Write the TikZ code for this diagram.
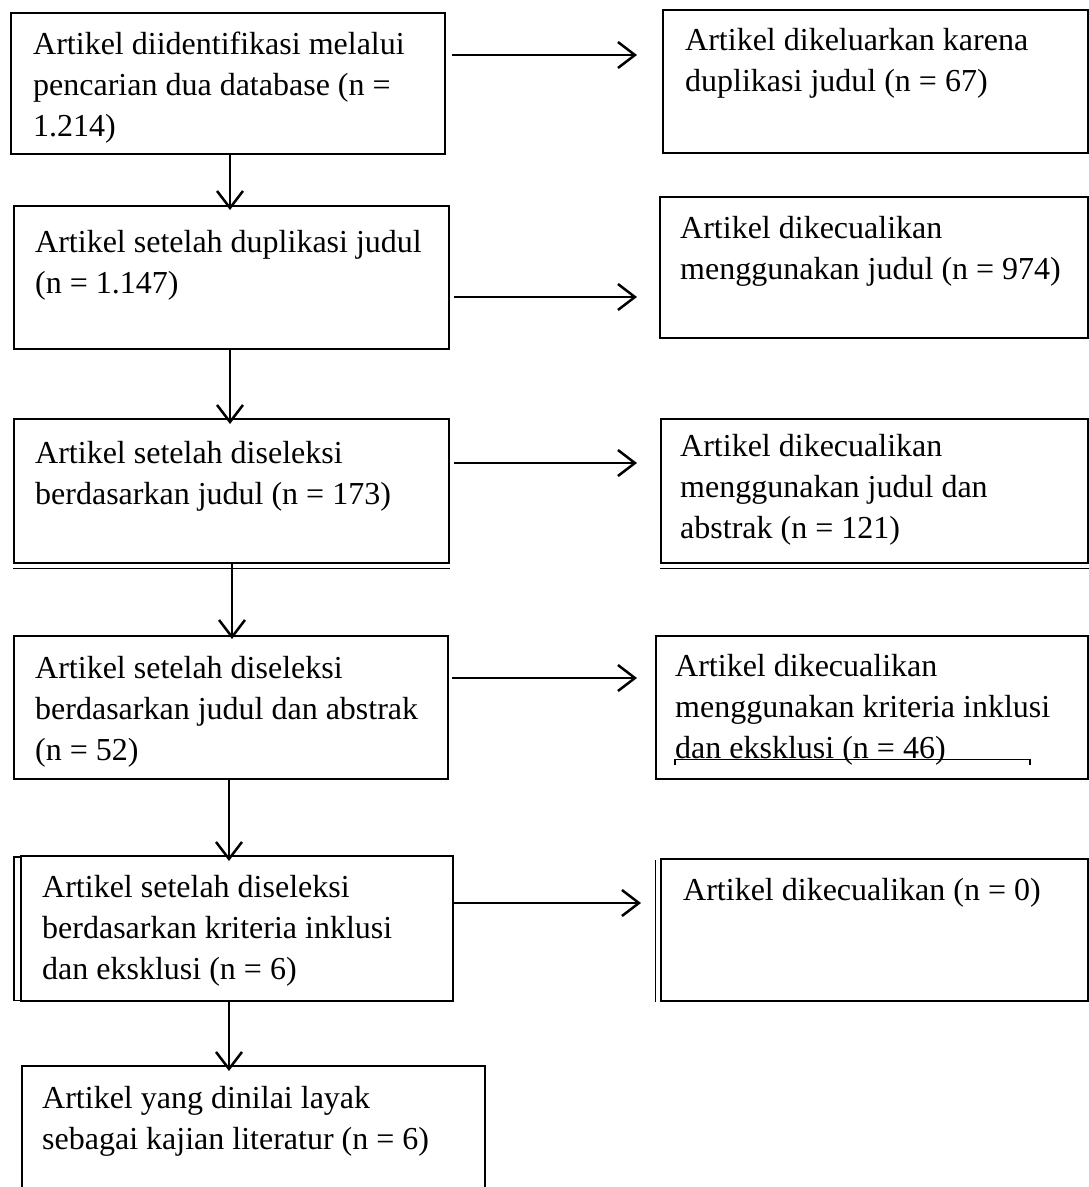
\documentclass[tikz,border=0pt]{standalone}
\usepackage{fontspec}
\setmainfont{Liberation Serif}
\usetikzlibrary{arrows.meta}
\begin{document}
\begin{tikzpicture}[x=1pt,y=-1pt,
  box/.style={draw, line width=2.4pt, inner sep=0pt, anchor=north west},
  txt/.style={anchor=base west, inner sep=0pt, font=\fontsize{32}{41}\selectfont},
  arr/.style={line width=2.5pt, -{Straight Barb[length=17pt,width=26pt,line width=2.5pt]}},
  thinline/.style={line width=1.2pt}]
\clip (0,0) rectangle (1089,1187);
\fill[white] (0,0) rectangle (1089,1187);
% left column boxes
\node[box, minimum width=434pt, minimum height=141pt] (b1) at (10,12) {};
\node[box, minimum width=435pt, minimum height=143pt] (b2) at (13,205) {};
\node[box, minimum width=435pt, minimum height=144pt] (b3) at (13,418) {};
\node[box, minimum width=434pt, minimum height=143pt] (b4) at (13,635) {};
\node[box, minimum width=432pt, minimum height=145pt] (b5) at (20,855) {};
\node[box, minimum width=463pt, minimum height=140pt] (b6) at (21,1065) {};
% right column boxes
\node[box, minimum width=425pt, minimum height=143pt] (r1) at (662,9) {};
\node[box, minimum width=428pt, minimum height=141pt] (r2) at (659,196) {};
\node[box, minimum width=427pt, minimum height=144pt] (r3) at (660,418) {};
\node[box, minimum width=432pt, minimum height=143pt] (r4) at (655,635) {};
\node[box, minimum width=427pt, minimum height=142pt] (r5) at (660,858) {};
% extra lines (double edges)
\draw[line width=1.4pt] ([yshift=-4pt]b3.south west) -- ([yshift=-4pt]b3.south east);
\draw[line width=1.4pt] ([yshift=-4pt]r3.south west) -- ([yshift=-4pt]r3.south east);
\draw[thinline] ([shift={(0,2)}]b5.north west) -- ++(-6,0) |- ([shift={(-6,-2)}]b5.south west) -- ++(6,0);
\draw[line width=1.6pt] ([shift={(-4.5,2)}]r5.north west) -- ([shift={(-4.5,0)}]r5.south west);
\coordinate (r4a) at ([shift={(20,-21)}]r4.south west);
\coordinate (r4b) at ([shift={(375,-21)}]r4.south west);
\draw[thinline] ([yshift=-6pt]r4a) -- (r4a) -- (r4b) -- ([yshift=-6pt]r4b);
% texts
\node[txt] (tb1) at (33,54) {\vtop{\hbox{Artikel diidentifikasi melalui}\hbox{pencarian dua database (n =}\hbox{1.214)}}};
\node[txt] (tb2) at (35,252) {\vtop{\hbox{Artikel setelah duplikasi judul}\hbox{(n = 1.147)}}};
\node[txt] (tb3) at (35,463) {\vtop{\hbox{Artikel setelah diseleksi}\hbox{berdasarkan judul (n = 173)}}};
\node[txt] (tb4) at (35,678) {\vtop{\hbox{Artikel setelah diseleksi}\hbox{berdasarkan judul dan abstrak}\hbox{(n = 52)}}};
\node[txt] (tb5) at (42,897) {\vtop{\hbox{Artikel setelah diseleksi}\hbox{berdasarkan kriteria inklusi}\hbox{dan eksklusi (n = 6)}}};
\node[txt] (tb6) at (42,1108) {\vtop{\hbox{Artikel yang dinilai layak}\hbox{sebagai kajian literatur (n = 6)}}};
\node[txt] (tr1) at (685,50) {\vtop{\hbox{Artikel dikeluarkan karena}\hbox{duplikasi judul (n = 67)}}};
\node[txt] (tr2) at (680,238) {\vtop{\hbox{Artikel dikecualikan}\hbox{menggunakan judul (n = 974)}}};
\node[txt] (tr3) at (680,456) {\vtop{\hbox{Artikel dikecualikan}\hbox{menggunakan judul dan}\hbox{abstrak (n = 121)}}};
\node[txt] (tr4) at (675,676) {\vtop{\hbox{Artikel dikecualikan}\hbox{menggunakan kriteria inklusi}\hbox{dan eksklusi (n = 46)}}};
\node[txt] (tr5) at (683,900) {Artikel dikecualikan (n = 0)};
% horizontal arrows
\draw[arr] ([shift={(6,43)}]b1.north east) -- ([shift={(-25,43)}]b1.north east -| r1.west);
\draw[arr] ([shift={(4,92)}]b2.north east) -- ([shift={(-22,92)}]b2.north east -| r2.west);
\draw[arr] ([shift={(4,45)}]b3.north east) -- ([shift={(-23,45)}]b3.north east -| r3.west);
\draw[arr] ([shift={(3,43)}]b4.north east) -- ([shift={(-18,43)}]b4.north east -| r4.west);
\draw[arr] ([shift={(0,48)}]b5.north east) -- ([shift={(-19,48)}]b5.north east -| r5.west);
% vertical arrows
\draw[arr] (230,153) coordinate (v1) -- ([yshift=-5pt]v1 |- b2.north);
\draw[arr] (b2.south -| 230,0) -- ([yshift=-6pt]b3.north -| 230,0);
\draw[arr] (b3.south -| 232,0) -- ([yshift=-4pt]b4.north -| 232,0);
\draw[arr] (b4.south -| 229,0) -- ([yshift=-6pt]b5.north -| 229,0);
\draw[arr] (b5.south -| 229,0) -- ([yshift=-6pt]b6.north -| 229,0);
\end{tikzpicture}
\end{document}
